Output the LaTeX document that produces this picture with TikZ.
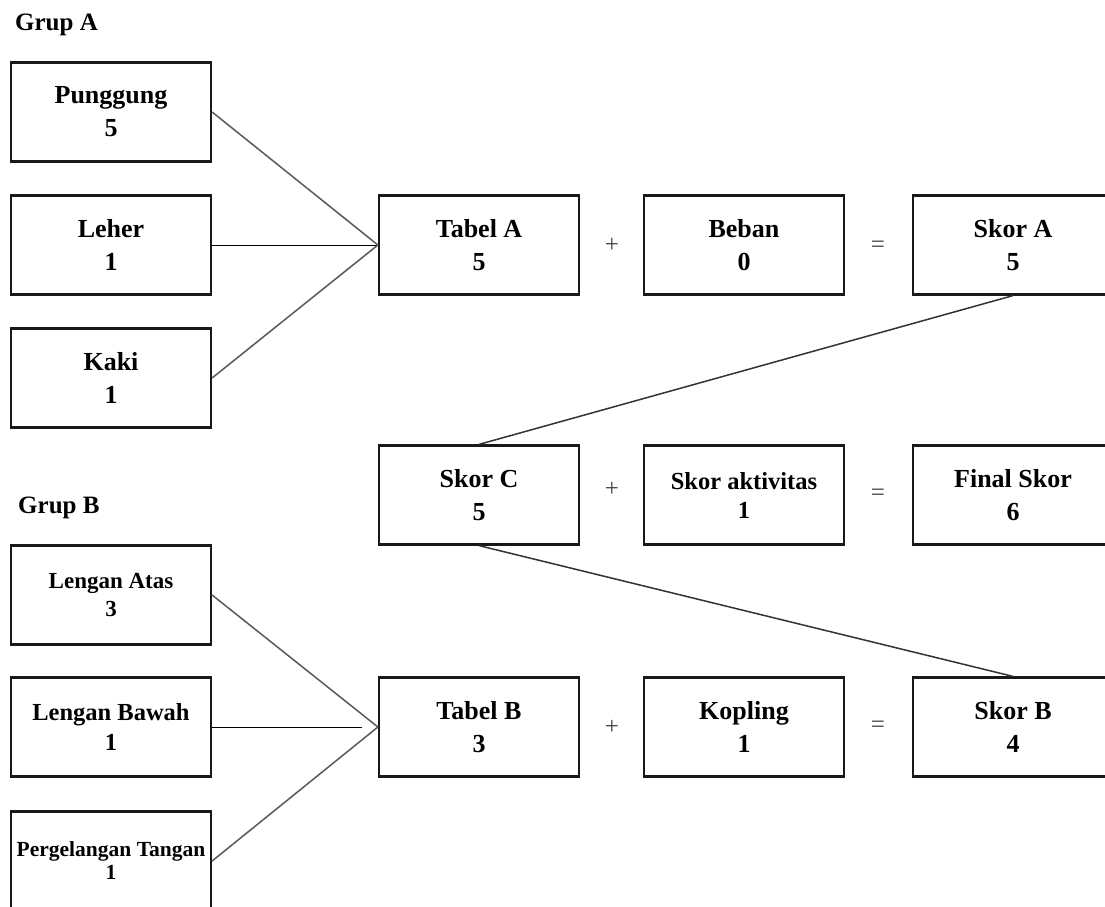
\documentclass[tikz,border=0pt]{standalone}
\usepackage{fontspec}
\setmainfont{Liberation Serif}
\begin{document}
\begin{tikzpicture}[x=1pt, y=1pt,
    box/.style={draw=black!90, line width=2.2pt, fill=white, minimum width=200pt, minimum height=99pt, inner sep=0pt, align=center, font=\fontsize{26}{33}\selectfont\bfseries},
    smallbox/.style args={#1/#2}{box, font=\fontsize{#1}{#2}\selectfont\bfseries},
    grup/.style={anchor=base west, inner sep=0pt, font=\fontsize{25}{30}\selectfont\bfseries},
    sign/.style={inner sep=0pt, text=black!75, font=\fontsize{25}{25}\selectfont},
    link/.style={draw=black!65, line width=1.5pt},
    flat/.style={draw=black, line width=1pt}]
    \path[use as bounding box, clip] (0, 0) rectangle (1105, -907);
    \fill[white] (0, 0) rectangle (1105, -907);

    % Grup A
    \node[grup] (grupA) at (15, -31) {Grup A};
    \node[box] (punggung) at (111, -112) {Punggung\\5};
    \node[box] (leher) at (111, -245) {Leher\\1};
    \node[box] (kaki) at (111, -378) {Kaki\\1};

    % Baris A
    \node[box] (tabelA) at (479, -245) {Tabel A\\5};
    \node[sign] (plusA) at (612, -245) {+};
    \node[box] (beban) at (744, -245) {Beban\\0};
    \node[sign] (eqA) at (878, -247) {=};
    \node[box] (skorA) at (1013, -245) {Skor A\\5};

    % Baris C
    \node[box] (skorC) at (479, -495) {Skor C\\5};
    \node[sign] (plusC) at (612, -489) {+};
    \node[sign] (eqC) at (878, -495) {=};
    \node[smallbox=24.5/29] (aktivitas) at (744, -495) {Skor aktivitas\\1};
    \node[box] (final) at (1013, -495) {Final Skor\\6};

    % Grup B
    \node[grup] (grupB) at (18, -513) {Grup B};
    \node[smallbox=23/28] (lenganAtas) at (111, -595) {Lengan Atas\\3};
    \node[smallbox=24.5/30] (lenganBawah) at (111, -727) {Lengan Bawah\\1};
    \node[smallbox=21.5/23] (pergelangan) at (111, -861) {Pergelangan Tangan\\1};

    % Baris B
    \node[box] (tabelB) at (479, -727) {Tabel B\\3};
    \node[sign] (plusB) at (612, -727) {+};
    \node[box] (kopling) at (744, -727) {Kopling\\1};
    \node[sign] (eqB) at (878, -727) {=};
    \node[box] (skorB) at (1013, -727) {Skor B\\4};

    % Garis
    \draw[link] (punggung.east) -- (tabelA.west);
    \draw[flat] (leher.east) -- (tabelA.west);
    \draw[link] (kaki.east) -- (tabelA.west);
    \draw[link] (lenganAtas.east) -- (tabelB.west);
    \draw[flat, shorten >=16pt] (lenganBawah.east) -- (tabelB.west);
    \draw[link] (pergelangan.east) -- (tabelB.west);
    \draw[link, draw=black!80] (skorA.south) -- (skorC.north);
    \draw[link, draw=black!80] (skorC.south) -- (skorB.north);
\end{tikzpicture}
\end{document}
